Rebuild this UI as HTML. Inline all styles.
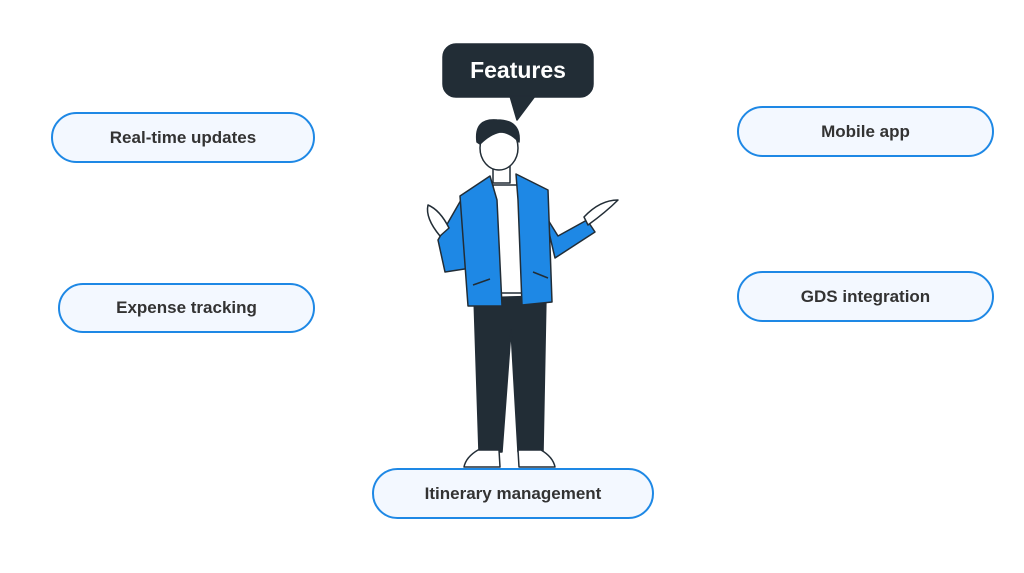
<!DOCTYPE html>
<html><head><style>
body{margin:0;width:1024px;height:573px;background:#fff;position:relative;overflow:hidden;font-family:"Liberation Sans",sans-serif}
.p{position:absolute;box-sizing:border-box;border:2.5px solid #1e88e5;background:#f3f8ff;border-radius:26px;display:flex;align-items:center;justify-content:center;font-weight:bold;font-size:17px;color:#333}
</style></head><body>
<div class="p" style="left:51px;top:112px;width:264px;height:51px">Real-time updates</div>
<div class="p" style="left:58px;top:283px;width:257px;height:50px">Expense tracking</div>
<div class="p" style="left:737px;top:106px;width:257px;height:51px">Mobile app</div>
<div class="p" style="left:737px;top:271px;width:257px;height:51px">GDS integration</div>
<div class="p" style="left:372px;top:468px;width:282px;height:51px">Itinerary management</div>
<svg style="position:absolute;left:0;top:0" width="1024" height="573">
<g stroke="#222d36" stroke-width="1.5" stroke-linejoin="round">
<rect x="443" y="44" width="150" height="53" rx="13" fill="#222d36"/>
<path d="M510 96 L517 120 L535 96Z" fill="#222d36"/>
<text x="518" y="78" text-anchor="middle" fill="#fff" stroke="none" font-family="Liberation Sans" font-weight="bold" font-size="23">Features</text>
<!-- pants -->
<path d="M474 298 L546 296 L543 452 L518 452 L511 330 L502 452 L479 452Z" fill="#222d36"/>
<!-- shoes -->
<path d="M478 450 L499 450 L500 467 L464 467 Q466 457 478 450Z" fill="#fff"/>
<path d="M518 450 L541 450 Q553 457 555 467 L519 467Z" fill="#fff"/>
<!-- shirt -->
<rect x="493" y="185" width="30" height="108" fill="#fff"/>
<!-- arms -->
<path d="M461 200 L438 240 L445 272 L471 268 Z" fill="#1e88e5"/>
<path d="M545 215 L555 258 L595 232 L587 220 L558 236Z" fill="#1e88e5"/>
<!-- jacket -->
<path d="M490 176 L460 196 L468 306 L502 306 L497 200 Z" fill="#1e88e5"/>
<path d="M516 174 L548 190 L552 302 L522 305 L518 200 Z" fill="#1e88e5"/>
<path d="M473 285 L490 279 M533 272 L548 278" fill="none"/>
<!-- hands -->
<path d="M440 236 Q425 218 428 205 Q440 210 449 228Z" fill="#fff"/>
<path d="M588 225 Q606 212 618 200 Q600 200 584 217Z" fill="#fff"/>
<!-- neck/head -->
<rect x="493" y="163" width="17" height="20" fill="#fff"/>
<ellipse cx="499" cy="148" rx="19" ry="22" fill="#fff"/>
<path d="M477 142 Q474 118 497 120 Q521 120 519 142 Q510 132 500 132 Q490 134 480 144Z" fill="#222d36"/>
</g>
</svg>
</body></html>
